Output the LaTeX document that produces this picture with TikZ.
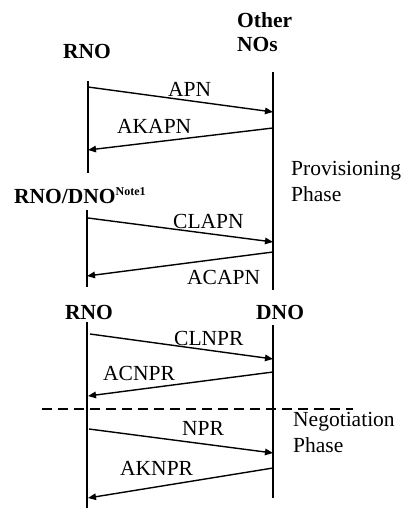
\documentclass[tikz,border=0pt]{standalone}
\usepackage{fontspec}
\setmainfont{Liberation Serif}
\usetikzlibrary{arrows.meta}
\tikzset{
  party/.style={font=\fontsize{21.5}{26}\selectfont\bfseries, inner sep=0pt, anchor=base west},
  msg/.style={font=\fontsize{21.5}{26}\selectfont, inner sep=0pt, anchor=base west},
  phase/.style={font=\fontsize{21.5}{26}\selectfont, inner sep=0pt, anchor=north west, align=left},
  life/.style={line width=1.8pt},
  arr/.style={line width=1.4pt, -{Triangle[length=8pt,width=6.5pt]}},
  sep/.style={line width=1.4pt, dash pattern=on 10pt off 6pt}
}
\begin{document}
\begin{tikzpicture}[x=1pt, y=-1pt]
\useasboundingbox (0,0) rectangle (401,508);

% party headers
\node[party] (rno1) at (63,59) {RNO};
\node[party] (other) at (237,28) {Other};
\node[party] (nos) at (237,52) {NOs};
\node[party] (rnodno) at (14,203) {RNO/DNO\raisebox{8pt}{\fontsize{12}{13}\selectfont\bfseries Note1}};
\node[party] (rno2) at (65,319) {RNO};
\node[party] (dno) at (256,319) {DNO};

% lifelines
\coordinate (L1t) at (88,81);  \coordinate (L1b) at (88,173);
\coordinate (L2t) at (87,210); \coordinate (L2b) at (87,287);
\coordinate (L3t) at (87,322); \coordinate (L3b) at (87,508);
\coordinate (R1t) at (273,72); \coordinate (R1b) at (273,290);
\coordinate (R2t) at (273,325); \coordinate (R2b) at (273,498);
\draw[life] (L1t) -- (L1b);
\draw[life] (L2t) -- (L2b);
\draw[life] (L3t) -- (L3b);
\draw[life] (R1t) -- (R1b);
\draw[life] (R2t) -- (R2b);

% provisioning messages
\coordinate (apnA) at (88,87);  \coordinate (apnB) at (273,112);
\draw[arr] (apnA) -- (apnB);
\node[msg] (apn) at (168,96) {APN};
\coordinate (akA) at (273,128); \coordinate (akB) at (88,150);
\draw[arr] (akA) -- (akB);
\node[msg] (akapn) at (117,133) {AKAPN};

\coordinate (clA) at (88,218);  \coordinate (clB) at (273,242);
\draw[arr] (clA) -- (clB);
\node[msg] (clapn) at (173,228) {CLAPN};
\coordinate (acA) at (273,252); \coordinate (acB) at (87,276);
\draw[arr] (acA) -- (acB);
\node[msg] (acapn) at (187,284) {ACAPN};

\node[phase] (prov) at (291,161) {Provisioning\\Phase};

% negotiation messages
\coordinate (cnA) at (90,334);  \coordinate (cnB) at (273,359);
\draw[arr] (cnA) -- (cnB);
\node[msg] (clnpr) at (174,345) {CLNPR};
\coordinate (anA) at (273,372); \coordinate (anB) at (88,396);
\draw[arr] (anA) -- (anB);
\node[msg] (acnpr) at (103,380) {ACNPR};

\coordinate (dashA) at (42,409); \coordinate (dashB) at (353,409);
\draw[sep] (dashA) -- (dashB);

\coordinate (npA) at (89,429);  \coordinate (npB) at (273,453);
\draw[arr] (npA) -- (npB);
\node[msg] (npr) at (182,435) {NPR};
\coordinate (aknA) at (273,468); \coordinate (aknB) at (88,498);
\draw[arr] (aknA) -- (aknB);
\node[msg] (aknpr) at (120,475) {AKNPR};

\node[phase] (nego) at (293,412) {Negotiation\\Phase};
\end{tikzpicture}
\end{document}
